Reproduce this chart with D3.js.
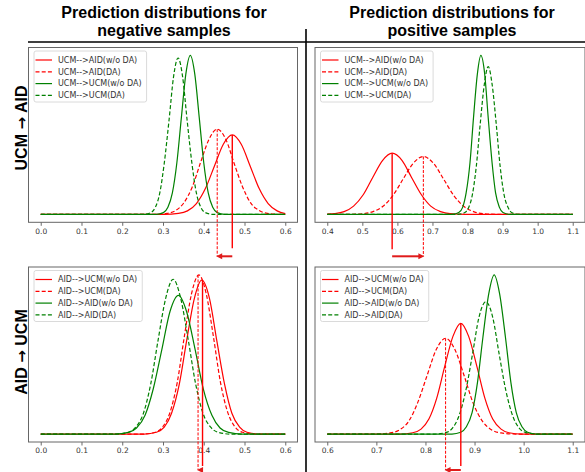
<!DOCTYPE html>
<html>
<head>
<meta charset="utf-8">
<script src="https://cdn.jsdelivr.net/npm/d3@7"></script>
<style>
  body { margin: 0; background: #fff; }
</style>
</head>
<body>
<div id="chart"></div>
<script>
// ---- data (x = prediction score, y = relative density) ----

// tick labels
var ticksNeg = [0.0, 0.1, 0.2, 0.3, 0.4, 0.5, 0.6];
var ticksPosTop = [0.4, 0.5, 0.6, 0.7, 0.8, 0.9, 1.0, 1.1];
var ticksPosBottom = [0.6, 0.7, 0.8, 0.9, 1.0, 1.1];

// legend labels
var labelsUcmAid = ["UCM-->AID(w/o DA)", "UCM-->AID(DA)", "UCM-->UCM(w/o DA)", "UCM-->UCM(DA)"];
var labelsAidUcm = ["AID-->UCM(w/o DA)", "AID-->UCM(DA)", "AID-->AID(w/o DA)", "AID-->AID(DA)"];

// UCM -> AID, negative samples
var negUcmAid_woDA = [[0,0],[0.303,0],[0.338,0.006],[0.360,0.022],[0.382,0.068],[0.404,0.162],[0.426,0.303],[0.448,0.441],[0.470,0.500],[0.492,0.441],[0.514,0.303],[0.536,0.162],[0.558,0.068],[0.580,0.022],[0.600,0.005]];
var negUcmAid_DA = [[0,0],[0.277,0],[0.310,0.006],[0.331,0.024],[0.351,0.072],[0.372,0.174],[0.392,0.325],[0.413,0.473],[0.433,0.536],[0.454,0.473],[0.474,0.325],[0.495,0.174],[0.515,0.072],[0.536,0.024],[0.556,0.006],[0.589,0],[0.600,0]];
var negUcmUcm_woDA = [[0,0],[0.283,0],[0.301,0.011],[0.312,0.044],[0.323,0.135],[0.334,0.325],[0.345,0.607],[0.356,0.882],[0.367,1.000],[0.378,0.882],[0.389,0.607],[0.400,0.325],[0.411,0.135],[0.422,0.044],[0.433,0.011],[0.451,0],[0.600,0]];
var negUcmUcm_DA = [[0,0],[0.252,0],[0.270,0.011],[0.281,0.043],[0.292,0.133],[0.303,0.320],[0.315,0.597],[0.326,0.868],[0.337,0.984],[0.348,0.868],[0.359,0.597],[0.371,0.320],[0.382,0.133],[0.393,0.043],[0.404,0.011],[0.422,0],[0.600,0]];

// UCM -> AID, positive samples
var posUcmAid_woDA = [[0.400,0.001],[0.420,0.004],[0.448,0.017],[0.475,0.052],[0.503,0.125],[0.530,0.234],[0.558,0.340],[0.585,0.385],[0.613,0.340],[0.640,0.234],[0.668,0.125],[0.695,0.052],[0.723,0.017],[0.750,0.004],[0.794,0],[1.100,0]];
var posUcmAid_DA = [[0.400,0],[0.454,0],[0.500,0.004],[0.529,0.016],[0.558,0.049],[0.587,0.118],[0.616,0.221],[0.645,0.321],[0.674,0.364],[0.703,0.321],[0.732,0.221],[0.761,0.118],[0.790,0.049],[0.819,0.016],[0.848,0.004],[0.894,0],[1.100,0]];
var posUcmUcm_woDA = [[0.400,0],[0.758,0],[0.775,0.011],[0.786,0.044],[0.796,0.135],[0.807,0.325],[0.817,0.607],[0.828,0.882],[0.838,1.000],[0.849,0.882],[0.859,0.607],[0.870,0.325],[0.880,0.135],[0.891,0.044],[0.901,0.011],[0.918,0],[1.100,0]];
var posUcmUcm_DA = [[0.400,0],[0.773,0],[0.791,0.010],[0.803,0.041],[0.814,0.126],[0.825,0.302],[0.836,0.565],[0.848,0.820],[0.859,0.930],[0.870,0.820],[0.882,0.565],[0.893,0.302],[0.904,0.126],[0.916,0.041],[0.927,0.010],[0.945,0],[1.100,0]];

// AID -> UCM, negative samples
var negAidUcm_woDA = [[0,0],[0.254,0],[0.284,0.011],[0.303,0.043],[0.321,0.131],[0.340,0.314],[0.358,0.587],[0.377,0.853],[0.395,0.967],[0.414,0.853],[0.432,0.587],[0.451,0.314],[0.469,0.131],[0.488,0.043],[0.506,0.011],[0.536,0],[0.600,0]];
var negAidUcm_DA = [[0,0],[0.252,0],[0.281,0.011],[0.299,0.044],[0.317,0.135],[0.335,0.325],[0.352,0.607],[0.370,0.882],[0.388,1.000],[0.406,0.882],[0.424,0.607],[0.441,0.325],[0.459,0.135],[0.477,0.044],[0.495,0.011],[0.524,0],[0.600,0]];
var negAidAid_woDA = [[0,0],[0.182,0],[0.215,0.010],[0.235,0.038],[0.256,0.118],[0.276,0.283],[0.297,0.529],[0.317,0.769],[0.338,0.872],[0.358,0.769],[0.379,0.529],[0.399,0.283],[0.420,0.118],[0.440,0.038],[0.461,0.010],[0.494,0],[0.600,0]];
var negAidAid_DA = [[0,0],[0.186,0],[0.215,0.011],[0.233,0.043],[0.252,0.131],[0.270,0.316],[0.288,0.591],[0.307,0.858],[0.325,0.973],[0.343,0.858],[0.362,0.591],[0.380,0.316],[0.398,0.131],[0.417,0.043],[0.435,0.011],[0.465,0],[0.600,0]];

// AID -> UCM, positive samples
var posAidUcm_woDA = [[0.600,0],[0.748,0],[0.774,0.008],[0.791,0.031],[0.807,0.094],[0.823,0.226],[0.839,0.422],[0.856,0.614],[0.872,0.696],[0.888,0.614],[0.905,0.422],[0.921,0.226],[0.937,0.094],[0.954,0.031],[0.970,0.008],[0.996,0],[1.100,0]];
var posAidUcm_DA = [[0.600,0],[0.698,0],[0.728,0.007],[0.747,0.026],[0.766,0.081],[0.784,0.196],[0.803,0.365],[0.822,0.531],[0.841,0.602],[0.860,0.531],[0.879,0.365],[0.897,0.196],[0.916,0.081],[0.935,0.026],[0.954,0.007],[0.984,0],[1.100,0]];
var posAidAid_woDA = [[0.600,0],[0.854,0],[0.872,0.011],[0.883,0.044],[0.895,0.135],[0.906,0.325],[0.917,0.607],[0.929,0.882],[0.940,1.000],[0.951,0.882],[0.963,0.607],[0.974,0.325],[0.985,0.135],[0.997,0.044],[1.008,0.011],[1.026,0],[1.100,0]];
var posAidAid_DA = [[0.600,0],[0.819,0],[0.841,0.009],[0.855,0.037],[0.868,0.112],[0.882,0.270],[0.896,0.505],[0.909,0.734],[0.923,0.832],[0.937,0.734],[0.950,0.505],[0.964,0.270],[0.978,0.112],[0.991,0.037],[1.005,0.009],[1.027,0],[1.100,0]];

// red shift markers: [w/o DA mean, DA mean]
var shiftNegUcmAid = [0.470, 0.433];
var shiftPosUcmAid = [0.585, 0.674];
var shiftNegAidUcm = [0.397, 0.386];
var shiftPosAidUcm = [0.872, 0.841];

// ---- layout ----
var W = 585, H = 472;
var svg = d3.select("#chart").append("svg")
    .attr("width", W)
    .attr("height", H)
    .style("font-family", "'DejaVu Sans', sans-serif");

var titleFont = "'Liberation Sans', Arial, sans-serif";

var panels = [
  {left: 28.5, top: 47.5, width: 269, height: 174.8, ticks: ticksNeg, labels: labelsUcmAid,
   series: [negUcmAid_woDA, negUcmAid_DA, negUcmUcm_woDA, negUcmUcm_DA], shift: shiftNegUcmAid,
   solidEnd: 26, arrowY: 34},
  {left: 315, top: 47.5, width: 270, height: 174.8, ticks: ticksPosTop, labels: labelsUcmAid,
   series: [posUcmAid_woDA, posUcmAid_DA, posUcmUcm_woDA, posUcmUcm_DA], shift: shiftPosUcmAid,
   solidEnd: 27, arrowY: 34},
  {left: 28.5, top: 267, width: 269, height: 175, ticks: ticksNeg, labels: labelsAidUcm,
   series: [negAidUcm_woDA, negAidUcm_DA, negAidAid_woDA, negAidAid_DA], shift: shiftNegAidUcm,
   solidEnd: 24, arrowY: 28},
  {left: 315, top: 267, width: 270, height: 175, ticks: ticksPosBottom, labels: labelsAidUcm,
   series: [posAidUcm_woDA, posAidUcm_DA, posAidAid_woDA, posAidAid_DA], shift: shiftPosAidUcm,
   solidEnd: 24, arrowY: 28}
];

// style per series index: red solid, red dashed, green solid, green dashed
var colors = ["#ff0000", "#ff0000", "#008000", "#008000"];
var dashes = [null, "4,2.2", null, "4,2.2"];

// ---- titles and dividers ----
[[164, "Prediction distributions for", "negative samples"],
 [452, "Prediction distributions for", "positive samples"]].forEach(function(t) {
  var txt = svg.append("text")
      .attr("x", t[0]).attr("y", 18)
      .attr("text-anchor", "middle")
      .style("font-family", titleFont)
      .style("font-weight", "bold")
      .style("font-size", "16px")
      .style("fill", "#000");
  txt.append("tspan").attr("x", t[0]).attr("dy", 0).text(t[1]);
  txt.append("tspan").attr("x", t[0]).attr("dy", 17.5).text(t[2]);
});

// row labels, the arrow glyph from DejaVu (Liberation's arrow is tiny)
[["UCM", "AID", 128], ["AID", "UCM", 352]].forEach(function(r) {
  var txt = svg.append("text")
      .attr("transform", "translate(27," + r[2] + ") rotate(-90)")
      .attr("text-anchor", "middle")
      .style("font-family", titleFont)
      .style("font-weight", "bold")
      .style("font-size", "16px")
      .style("fill", "#000");
  txt.append("tspan").text(r[0] + " ");
  txt.append("tspan").style("font-family", "'DejaVu Sans', sans-serif").style("font-size", "15px").text("\u2192");
  txt.append("tspan").text(" " + r[1]);
});

svg.append("line")
    .attr("x1", 28).attr("x2", W)
    .attr("y1", 42).attr("y2", 42)
    .attr("stroke", "#000").attr("stroke-width", 1.6);
svg.append("line")
    .attr("x1", 306).attr("x2", 306)
    .attr("y1", 29).attr("y2", H)
    .attr("stroke", "#000").attr("stroke-width", 1.6);

// ---- panels ----
panels.forEach(function(p) {
  var g = svg.append("g");
  var dom = d3.extent(p.ticks);
  var pad = (dom[1] - dom[0]) * 0.05;
  var x = d3.scaleLinear()
      .domain([dom[0] - pad, dom[1] + pad])
      .range([p.left, p.left + p.width]);
  var ymax = d3.max(p.series, function(s) { return d3.max(s, function(d) { return d[1]; }); });
  var y = d3.scaleLinear()
      .domain([-0.05 * ymax, 1.05 * ymax])
      .range([p.top + p.height, p.top]);
  var bottom = p.top + p.height;

  // x axis
  var ax = g.append("g")
      .attr("transform", "translate(0," + bottom + ")")
      .call(d3.axisBottom(x).tickValues(p.ticks).tickFormat(d3.format(".1f")).tickSize(3.5).tickPadding(2.5));
  ax.select(".domain").remove();
  ax.selectAll("line").attr("stroke", "#444").attr("stroke-width", 0.8);
  ax.selectAll("text")
      .style("font-family", "'DejaVu Sans', sans-serif")
      .style("font-size", "7.5px")
      .style("fill", "#333");

  // curves
  var line = d3.line()
      .x(function(d) { return x(d[0]); })
      .y(function(d) { return y(d[1]); })
      .curve(d3.curveMonotoneX);
  p.series.forEach(function(s, i) {
    g.append("path")
        .datum(s)
        .attr("d", line)
        .attr("fill", "none")
        .attr("stroke", colors[i])
        .attr("stroke-width", 1.2)
        .attr("stroke-dasharray", dashes[i]);
  });

  // frame
  g.append("rect")
      .attr("x", p.left).attr("y", p.top)
      .attr("width", p.width).attr("height", p.height)
      .attr("fill", "none")
      .attr("stroke", "#666")
      .attr("stroke-width", 1);

  // legend
  var lx = p.left + 5.5, ly = p.top + 3.5;
  var leg = g.append("g");
  var box = leg.append("rect")
      .attr("x", lx).attr("y", ly)
      .attr("height", 51)
      .attr("rx", 2)
      .attr("fill", "#fff").attr("fill-opacity", 0.85)
      .attr("stroke", "#d0d0d0").attr("stroke-width", 0.8);
  var maxW = 0;
  p.labels.forEach(function(lab, i) {
    var cy = ly + 9 + i * 11.8;
    leg.append("line")
        .attr("x1", lx + 1.5).attr("x2", lx + 18)
        .attr("y1", cy).attr("y2", cy)
        .attr("stroke", colors[i])
        .attr("stroke-width", 1.2)
        .attr("stroke-dasharray", dashes[i]);
    var t = leg.append("text")
        .attr("x", lx + 24).attr("y", cy + 2.8)
        .style("font-size", "8px")
        .style("fill", "#333")
        .text(lab);
    maxW = Math.max(maxW, t.node().getComputedTextLength());
  });
  box.attr("width", 24 + maxW + 5);

  // red shift markers below the axis
  var peakSolid = d3.max(p.series[0], function(d) { return d[1]; });
  var peakDash = d3.max(p.series[1], function(d) { return d[1]; });
  var xs = x(p.shift[0]), xd = x(p.shift[1]);
  var ay = bottom + p.arrowY;
  g.append("line")
      .attr("x1", xs).attr("x2", xs)
      .attr("y1", y(peakSolid)).attr("y2", bottom + p.solidEnd)
      .attr("stroke", "#ff0000").attr("stroke-width", 1.4);
  g.append("line")
      .attr("x1", xd).attr("x2", xd)
      .attr("y1", y(peakDash)).attr("y2", ay)
      .attr("stroke", "#ff0000").attr("stroke-width", 1)
      .attr("stroke-dasharray", "3,1.5");
  var dir = xd < xs ? -1 : 1;
  var tip = xd + dir * 1;
  g.append("line")
      .attr("x1", xs).attr("x2", tip - dir * 5)
      .attr("y1", ay).attr("y2", ay)
      .attr("stroke", "#e01b1b").attr("stroke-width", 2);
  g.append("path")
      .attr("d", "M" + tip + "," + ay + "L" + (tip - dir * 6) + "," + (ay - 3) + "L" + (tip - dir * 6) + "," + (ay + 3) + "Z")
      .attr("fill", "#e01b1b");
});
</script>
</body>
</html>
